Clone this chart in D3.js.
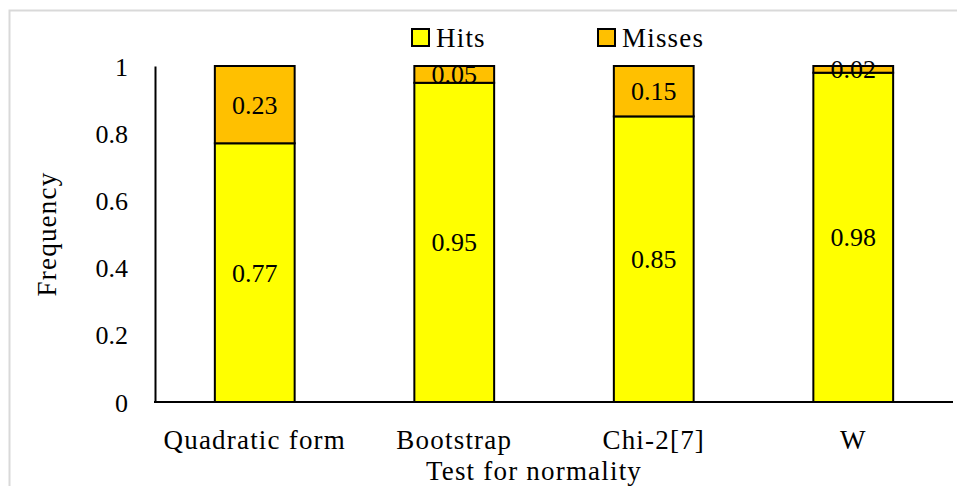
<!DOCTYPE html>
<html>
<head>
<meta charset="utf-8">
<script src="https://cdn.jsdelivr.net/npm/d3@7/dist/d3.min.js"></script>
<style>
  html, body { margin: 0; padding: 0; background: #fff; }
  svg { display: block; }
  text { font-family: "Palatino Linotype", "Book Antiqua", Palatino, "Liberation Serif", serif; fill: #000; }
  .word { letter-spacing: 1.2px; }
</style>
</head>
<body>
<svg id="chart" width="957" height="486"></svg>
<script>
// Normality test results: share of hits and misses per test
const categories = ["Quadratic form", "Bootstrap", "Chi-2[7]", "W"];
const hits = [0.77, 0.95, 0.85, 0.98];
const misses = [0.23, 0.05, 0.15, 0.02];
const yTicks = [0, 0.2, 0.4, 0.6, 0.8, 1];
const seriesNames = ["Hits", "Misses"];
const seriesColors = ["#FFFF00", "#FFC000"];

const svg = d3.select("#chart");
const fontSize = 26;

// outer frame
svg.append("rect")
  .attr("x", 9.5).attr("y", 10.5)
  .attr("width", 1000).attr("height", 600)
  .attr("fill", "none").attr("stroke", "#d9d9d9").attr("stroke-width", 2);

const x = d3.scaleBand().domain(categories).range([155, 953]).paddingInner(0.6).paddingOuter(0.3);
const y = d3.scaleLinear().domain([0, 1]).range([402, 66]);

const rows = categories.map((c, i) => ({ cat: c, Hits: hits[i], Misses: misses[i] }));
const stacked = d3.stack().keys(seriesNames)(rows);

// bars
const layers = svg.append("g").selectAll("g")
  .data(stacked).join("g")
  .attr("fill", (d, i) => seriesColors[i]);

layers.selectAll("rect")
  .data(d => d).join("rect")
  .attr("x", d => x(d.data.cat))
  .attr("y", d => y(d[1]))
  .attr("width", x.bandwidth())
  .attr("height", d => y(d[0]) - y(d[1]))
  .attr("stroke", "#000").attr("stroke-width", 2);

// value labels
layers.selectAll("text")
  .data((d, i) => d.map(v => ({ v, key: seriesNames[i] })))
  .join("text")
  .attr("x", d => x(d.v.data.cat) + x.bandwidth() / 2)
  .attr("y", d => (y(d.v[0]) + y(d.v[1])) / 2 + 9)
  .attr("text-anchor", "middle")
  .attr("font-size", fontSize)
  .style("fill", "#000")
  .text(d => d.v.data[d.key]);

// y axis
const yAxis = svg.append("g").attr("transform", "translate(155,0)")
  .call(d3.axisLeft(y).tickValues(yTicks).tickSize(0).tickPadding(27).tickFormat(d3.format("~g")));
yAxis.select(".domain").attr("stroke", "#000").attr("stroke-width", 2);
yAxis.selectAll("text").attr("font-size", fontSize).attr("font-family", null).attr("dy", "0.35em");

// x axis
const xAxis = svg.append("g").attr("transform", "translate(0,402)")
  .call(d3.axisBottom(x).tickSize(0).tickPadding(28));
xAxis.select(".domain").attr("stroke", "#000").attr("stroke-width", 2).attr("d", "M154,0H953");
xAxis.selectAll("text").attr("class", "word").attr("font-size", 27).attr("font-family", null).attr("dy", "0.71em");

// axis titles
svg.append("text")
  .attr("class", "word")
  .attr("x", 534).attr("y", 480)
  .attr("text-anchor", "middle").attr("font-size", 27)
  .text("Test for normality");

svg.append("text")
  .attr("class", "word")
  .attr("transform", "translate(56,234) rotate(-90)")
  .attr("text-anchor", "middle").attr("font-size", 27)
  .text("Frequency");

// legend
const legendX = [412, 598];
const legend = svg.append("g").selectAll("g")
  .data(seriesNames).join("g")
  .attr("transform", (d, i) => `translate(${legendX[i]},29)`);
legend.append("rect")
  .attr("width", 17).attr("height", 17)
  .attr("fill", (d, i) => seriesColors[i])
  .attr("stroke", "#000").attr("stroke-width", 2);
legend.append("text")
  .attr("class", "word")
  .attr("x", 24).attr("y", 18)
  .attr("font-size", 27)
  .text(d => d);
</script>
</body>
</html>
